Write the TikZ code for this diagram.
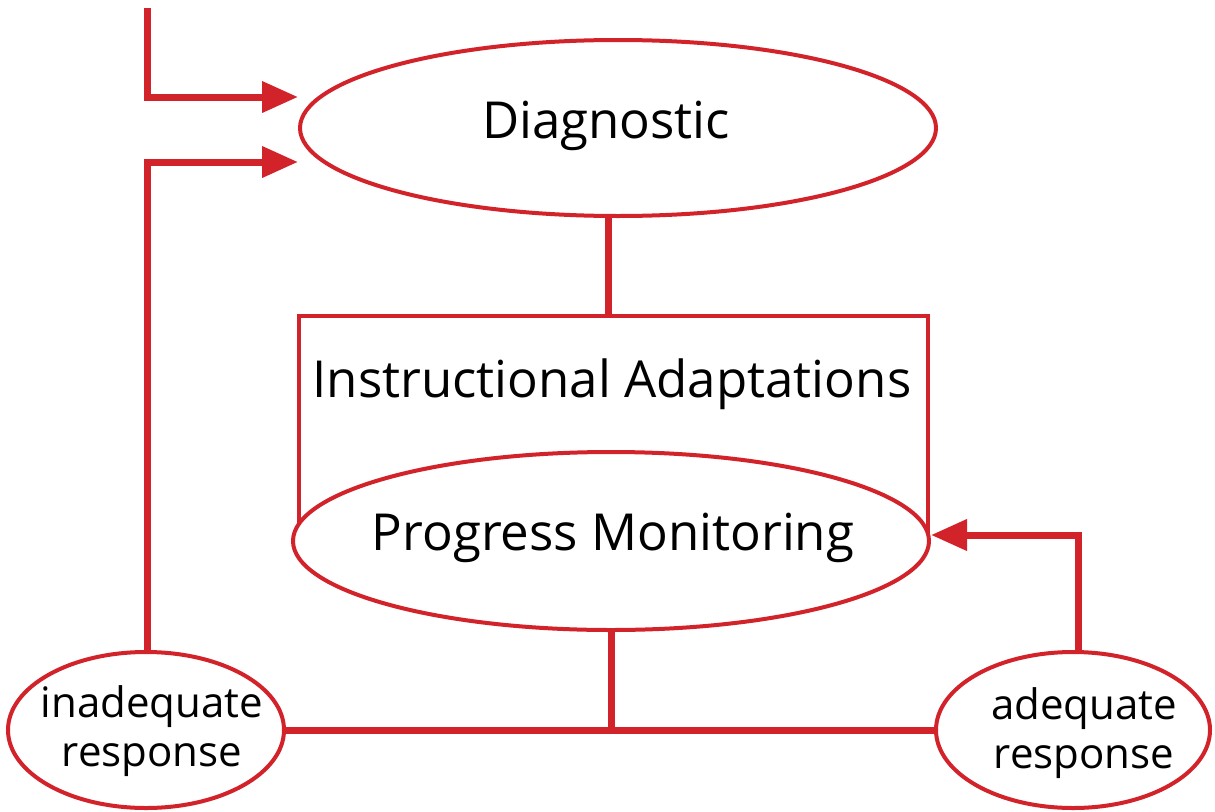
\documentclass[tikz,border=0pt]{standalone}
\usepackage{fontspec}
\setmainfont{Open Sans}
\usetikzlibrary{shapes.geometric,arrows.meta,calc}
\definecolor{rred}{HTML}{D2232A}
\tikzset{
  oval/.style={ellipse, draw=rred, line width=4pt, fill=white, inner sep=0pt},
  conn/.style={draw=rred, line width=7pt},
  arr/.style={conn, -{Triangle[length=36pt,width=30pt]}},
  bigtext/.style={font=\fontsize{51}{58}\selectfont},
  smalltext/.style={font=\fontsize{42}{49}\selectfont, align=center},
}
\begin{document}
\begin{tikzpicture}[x=1pt,y=-1pt]
\useasboundingbox (0,0) rectangle (1215,811);
% box
\node[draw=rred, line width=4pt, minimum width=629pt, minimum height=230pt, anchor=north west, inner sep=0pt] (box) at (297,314) {};
\node[bigtext] (ia) at (612,384) {Instructional Adaptations};
\node[oval, minimum width=636pt, minimum height=176pt] (diag) at (618,128) {};
\node[bigtext] (diagt) at (606,126) {Diagnostic};
\node[oval, minimum width=636pt, minimum height=178pt] (pm) at (611,541) {};
\node[bigtext] (pmt) at (613,538) {Progress Monitoring};
\node[oval, minimum width=276pt, minimum height=156pt] (inad) at (146,730) {};
\node[smalltext] (inadt) at (152,731) {inadequate\\response};
\node[oval, minimum width=274pt, minimum height=156pt] (ad) at (1073,730) {};
\node[smalltext] (adt) at (1084,733) {adequate\\response};
% connectors
\coordinate (dtop) at (608,216);
\draw[conn] (dtop) -- (dtop |- box.north);
\coordinate (start) at (147,8);
\draw[arr] (start) -- (147,97) -- ($(diag.west)+(0,-31)$);
\draw[arr] (inad.north -| 147,0) -- (147,162) -- ($(diag.west)+(0,34)$);
\draw[conn] (inad.east) -- (ad.west);
\draw[conn] (pm.south) -- (pm.south |- inad.east);
\draw[arr] (ad.north -| 1078,0) -- (1078,535) -- ($(pm.east)+(0,-6)$);
\end{tikzpicture}
\end{document}
